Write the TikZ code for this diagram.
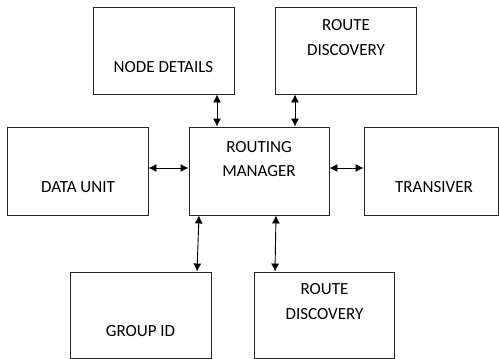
\documentclass[tikz,border=0pt]{standalone}
\usepackage{fontspec}
\setmainfont{Carlito}
\usetikzlibrary{arrows.meta}
\begin{document}
\begin{tikzpicture}[x=1pt,y=-1pt,
  box/.style={draw=black!85,line width=0.9pt,rectangle,inner sep=0pt},
  lbl/.style={inner sep=0pt,font=\fontsize{17}{19}\selectfont,text=black},
  arr/.style={{Latex[length=8pt,width=8pt]}-{Latex[length=8pt,width=8pt]},line width=0.9pt,draw=black}]
\useasboundingbox (0,0) rectangle (499,359);
\node[box,minimum width=141pt,minimum height=87pt] (nd) at (163.5,50.5) {};
\node[box,minimum width=141pt,minimum height=87pt] (rdt) at (346,50.5) {};
\node[box,minimum width=141pt,minimum height=88pt] (du) at (77.5,171) {};
\node[box,minimum width=140pt,minimum height=88pt] (rm) at (259,171) {};
\node[box,minimum width=134pt,minimum height=88pt] (tr) at (431,171) {};
\node[box,minimum width=141pt,minimum height=86pt] (gi) at (140.5,315) {};
\node[box,minimum width=140pt,minimum height=86pt] (rdb) at (324,315) {};
\node[lbl] (t1) at (163.5,67) {NODE DETAILS};
\node[lbl] (t2) at (346,25) {ROUTE};
\node[lbl] (t3) at (346,50) {DISCOVERY};
\node[lbl] (t4) at (78,187) {DATA UNIT};
\node[lbl] (t5) at (259,147) {ROUTING};
\node[lbl] (t6) at (259,171) {MANAGER};
\node[lbl] (t7) at (434,187) {TRANSIVER};
\node[lbl] (t8) at (140.5,331) {GROUP ID};
\node[lbl] (t9) at (324.5,289) {ROUTE};
\node[lbl] (t10) at (324.5,314) {DISCOVERY};
\draw[arr] (nd.south -| 217,0) -- (rm.north -| 217,0);
\draw[arr] (rdt.south -| 295,0) -- (rm.north -| 295,0);
\draw[arr] (du.east |- 0,168) -- (rm.west |- 0,168);
\draw[arr] (rm.east |- 0,168) -- (tr.west |- 0,168);
\draw[arr] (rm.south -| 199,0) -- (gi.north -| 197,0);
\draw[arr] (rm.south -| 276,0) -- (rdb.north -| 275,0);
\end{tikzpicture}
\end{document}
